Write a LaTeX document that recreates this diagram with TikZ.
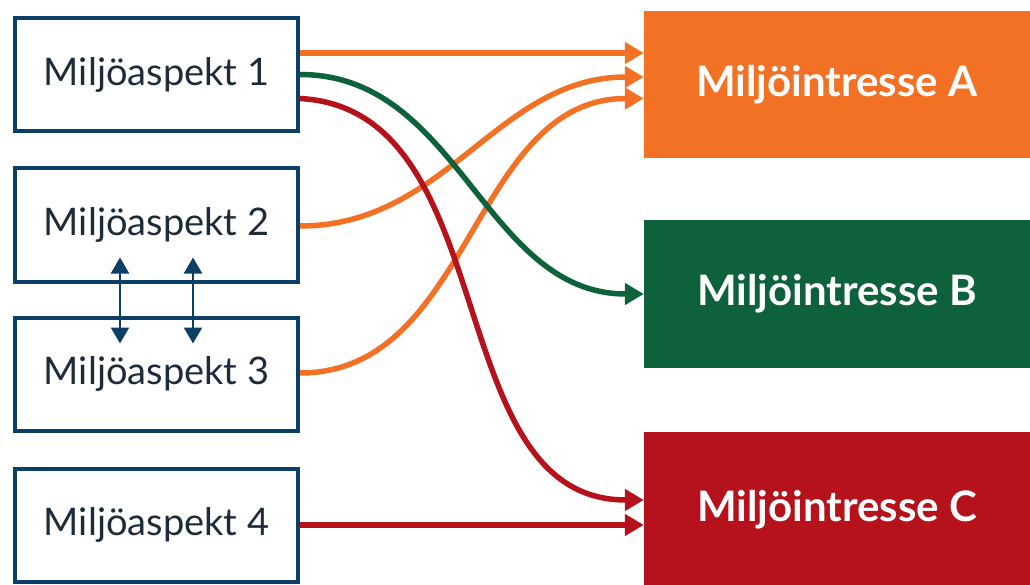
\documentclass[tikz,border=0pt]{standalone}
\usepackage{fontspec}
\setmainfont{Lato}
\usetikzlibrary{arrows.meta}
\definecolor{navy}{HTML}{0B3F66}
\definecolor{orng}{HTML}{F37124}
\definecolor{grn}{HTML}{0E623B}
\definecolor{rd}{HTML}{B5121B}
\definecolor{ink}{HTML}{1E2B3A}

\begin{document}
\begin{tikzpicture}[x=1pt, y=-1pt,
    aspekt/.style={draw=navy, line width=4pt, minimum width=283pt, minimum height=113pt, inner sep=0pt, text=ink, font=\fontsize{38}{44}\selectfont},
    intresse/.style={minimum width=386pt, minimum height=147pt, inner sep=0pt, text=white, font=\fontsize{42}{48}\selectfont\bfseries},
    link/.style={line width=5.5pt, -{Triangle[length=19pt,width=21pt]}},
    swap/.style={draw=navy, line width=2.2pt, {Triangle[length=16pt,width=18pt]}-{Triangle[length=16pt,width=18pt]}}]
    \useasboundingbox (0,0) rectangle (1030,585);

    % Aspects
    \node[aspekt] (asp1) at (156.5,74.5) {Miljöaspekt 1};
    \node[aspekt] (asp2) at (156.5,225) {Miljöaspekt 2};
    \node[aspekt] (asp3) at (156.5,374) {Miljöaspekt 3};
    \node[aspekt] (asp4) at (156.5,525) {Miljöaspekt 4};

    % Interests
    \node[intresse, fill=orng] (intA) at (837,84.5) {Miljöintresse A};
    \node[intresse, fill=grn] (intB) at (837,294) {Miljöintresse B};
    \node[intresse, fill=rd, minimum height=156pt] (intC) at (837,510) {Miljöintresse C};

    % Links to A
    \draw[link, orng] ([yshift=21.5pt]asp1.east) -- ([yshift=31.5pt]intA.west);
    \draw[link, orng] ([yshift=-1pt]asp2.east) to[out=0, in=180] ([yshift=7.5pt]intA.west);
    \draw[link, orng] ([yshift=1pt]asp3.east) to[out=0, in=180] ([yshift=-14pt]intA.west);

    % Links to B and C
    \draw[link, grn] (asp1.east) to[out=0, in=180] (intB.west);
    \draw[link, rd] ([yshift=-24pt]asp1.east) to[out=-3, in=180] ([yshift=10pt]intC.west);
    \draw[link, rd] (asp4.east) -- ([yshift=-15pt]intC.west);

    % Between 2 and 3
    \draw[swap] ([xshift=-36.5pt, yshift=26pt]asp2.south) -- ([xshift=-36.5pt, yshift=-28pt]asp3.north);
    \draw[swap] ([xshift=36.5pt, yshift=26pt]asp2.south) -- ([xshift=36.5pt, yshift=-28pt]asp3.north);
\end{tikzpicture}
\end{document}
